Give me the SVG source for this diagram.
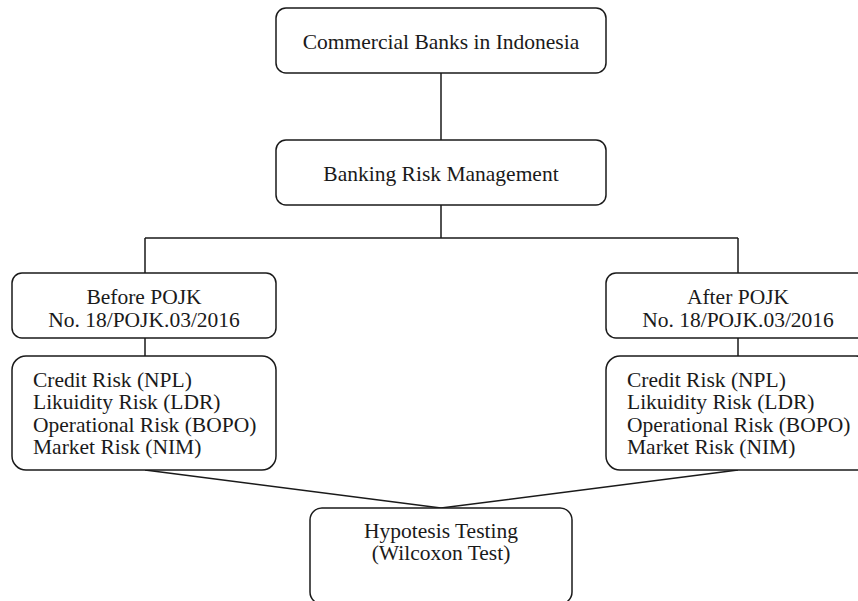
<svg xmlns="http://www.w3.org/2000/svg" width="858" height="601" viewBox="0 0 858 601">
<style>
.box{fill:#fff;stroke:#1a1a1a;stroke-width:1.5}
.ln{fill:none;stroke:#1a1a1a;stroke-width:1.5}
text{font-family:"Liberation Serif","Times New Roman",serif;font-size:21.5px;fill:#1a1a1a}
.c{text-anchor:middle}
</style>
<rect width="858" height="601" fill="#fff"/>
<g id="connectors">
<path class="ln" d="M441 73V140"/>
<path class="ln" d="M441 205V238M145 238H738M145 238V273M738 238V273"/>
<path class="ln" d="M145 338V356M738 338V356"/>
<path class="ln" d="M145 470L441 508L738 470"/>
</g>
<g id="n1"><rect class="box" x="276" y="8" width="330" height="65" rx="10"/><text class="c" x="441" y="49">Commercial Banks in Indonesia</text></g>
<g id="n2"><rect class="box" x="276" y="140" width="330" height="65" rx="10"/><text class="c" x="441" y="181">Banking Risk Management</text></g>
<g id="n3"><rect class="box" x="12" y="273" width="264" height="65" rx="10"/><text class="c" x="144" y="304">Before POJK</text><text class="c" x="144" y="327">No. 18/POJK.03/2016</text></g>
<g id="n4"><rect class="box" x="606" y="273" width="264" height="65" rx="10"/><text class="c" x="738" y="304">After POJK</text><text class="c" x="738" y="327">No. 18/POJK.03/2016</text></g>
<g id="n5"><rect class="box" x="12" y="356" width="264" height="114" rx="14"/><text x="33" y="387">Credit Risk (NPL)</text><text x="33" y="409">Likuidity Risk (LDR)</text><text x="33" y="432">Operational Risk (BOPO)</text><text x="33" y="454">Market Risk (NIM)</text></g>
<g id="n6"><rect class="box" x="606" y="356" width="264" height="114" rx="14"/><text x="627" y="387">Credit Risk (NPL)</text><text x="627" y="409">Likuidity Risk (LDR)</text><text x="627" y="432">Operational Risk (BOPO)</text><text x="627" y="454">Market Risk (NIM)</text></g>
<g id="n7"><rect class="box" x="310" y="508" width="262" height="96" rx="12"/><text class="c" x="441" y="538">Hypotesis Testing</text><text class="c" x="441" y="560">(Wilcoxon Test)</text></g>
</svg>
